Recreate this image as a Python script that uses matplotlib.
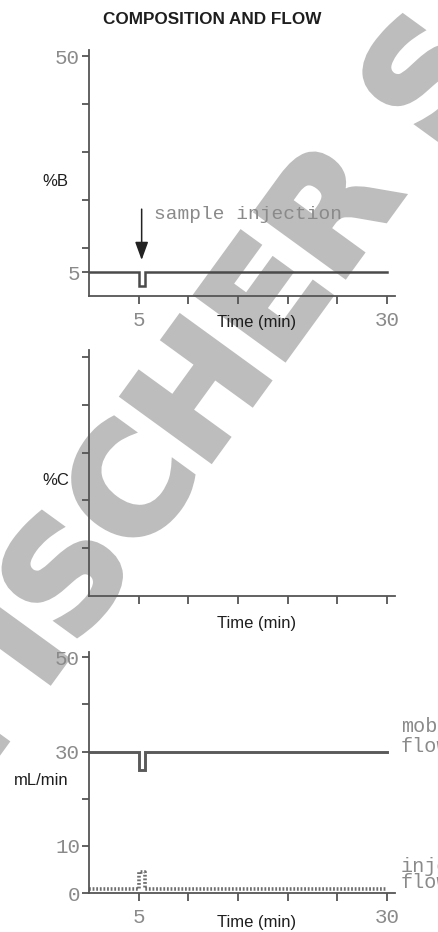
import matplotlib
matplotlib.use("Agg")
import matplotlib.pyplot as plt
from matplotlib import patheffects

# ---- data -------------------------------------------------------------
time_b = [0, 5, 5, 5.65, 5.65, 30]
pct_b = [5, 5, 2, 2, 5, 5]

time_mob = [0, 5, 5, 5.65, 5.65, 30]
mob_flow = [30, 30, 26, 26, 30, 30]

time_inj = [0, 5, 5, 5.65, 5.65, 30]
inj_flow = [0.9, 0.9, 4.5, 4.5, 0.9, 0.9]

x_ticks = [5, 10, 15, 20, 25, 30]
x_ticklabels = ["5", "", "", "", "", "30"]

b_ticks = [5, 10, 20, 30, 40, 50]
b_ticklabels = ["5", "", "", "", "", "50"]

c_ticks = [10, 20, 30, 40, 50]

flow_ticks = [0, 10, 20, 30, 40, 50]
flow_ticklabels = ["0", "10", "", "30", "", "50"]

injection_time = 5.3

# ---- styling ----------------------------------------------------------
SANS = "Liberation Sans"
MONO = "Liberation Mono"
AXIS_C = "#555555"
LINE_C = "#4a4a4a"
TEXT_C = "#1e1e1e"
MONO_C = "#8a8a8a"
STAMP_C = "#bdbdbd"

fig = plt.figure(figsize=(4.38, 9.32), dpi=100)
fig.patch.set_facecolor("white")

# diagonal background stamp
fig.text(0.549, 0.5494, "FISCHER S", rotation=54, rotation_mode="anchor",
         ha="center", va="baseline", fontsize=108, weight="bold",
         family="DejaVu Sans", color=STAMP_C, zorder=-10,
         path_effects=[patheffects.withStroke(linewidth=4, foreground=STAMP_C,
                                              joinstyle="miter")])

fig.text(0.484, 0.9796, "COMPOSITION AND FLOW", ha="center", va="center",
         fontsize=12.3, weight="bold", family=SANS, color=TEXT_C)


def make_axes(rect, ylim, yticks, yticklabels, show_xlabels):
    ax = fig.add_axes(rect)
    ax.patch.set_visible(False)
    for side in ("top", "right"):
        ax.spines[side].set_visible(False)
    for side in ("left", "bottom"):
        ax.spines[side].set_color(AXIS_C)
        ax.spines[side].set_linewidth(1.3)
    ax.set_xlim(0, 30.8)
    ax.set_ylim(*ylim)
    ax.set_xticks(x_ticks)
    ax.set_xticklabels(x_ticklabels if show_xlabels else [""] * len(x_ticks))
    ax.set_yticks(yticks)
    ax.set_yticklabels(yticklabels)
    ax.tick_params(axis="y", direction="out", length=5, width=1.3,
                   color=AXIS_C, pad=1.5, labelsize=15, labelcolor=MONO_C)
    ax.tick_params(axis="x", direction="out", length=6, width=1.3,
                   color=AXIS_C, pad=5, labelsize=15, labelcolor=MONO_C)
    for lab in ax.get_xticklabels() + ax.get_yticklabels():
        lab.set_family(MONO)
    return ax


def time_label(ax, y):
    ax.set_xlabel("Time (min)", fontsize=12, family=SANS, color=TEXT_C)
    ax.xaxis.set_label_coords(0.549, y)
    ax.xaxis.label.set_va("center")


def side_label(ax, text, x, y):
    ax.set_ylabel(text, rotation=0, fontsize=12, family=SANS, color=TEXT_C,
                  ha="center", va="center")
    ax.yaxis.set_label_coords(x, y)


# ---- %B ---------------------------------------------------------------
ax1 = make_axes([0.2032, 0.6824, 0.6986, 0.2639], (0, 51.25),
                b_ticks, b_ticklabels, True)
ax1.plot(time_b, pct_b, color=LINE_C, lw=1.8, solid_joinstyle="miter")
ax1.annotate("", xy=(injection_time, 7.5), xytext=(injection_time, 18.1),
             arrowprops=dict(arrowstyle="-|>,head_length=0.55,head_width=0.2",
                             mutation_scale=20, color="#222222", lw=1.1,
                             shrinkA=0, shrinkB=0))
ax1.text(6.5, 16.9, "sample injection", family=MONO, fontsize=14,
         color=MONO_C, ha="left", va="center")
time_label(ax1, -0.106)
side_label(ax1, "%B", -0.111, 0.467)

# ---- %C ---------------------------------------------------------------
ax2 = make_axes([0.2032, 0.3605, 0.6986, 0.2639], (0, 51.5),
                c_ticks, [""] * len(c_ticks), False)
time_label(ax2, -0.11)
side_label(ax2, "%C", -0.108, 0.4715)

# ---- flow -------------------------------------------------------------
ax3 = make_axes([0.2032, 0.0418, 0.6986, 0.2586], (0, 51.1),
                flow_ticks, flow_ticklabels, True)
ax3.plot(time_mob, mob_flow, color="#5a5a5a", lw=2.1, solid_joinstyle="miter")
ax3.plot(time_inj, inj_flow, color="#6e6e6e", lw=2.6, linestyle=(0, (0.5, 0.5)))
ax3.text(31.4, 33.2, "mobile\nflow", family=MONO, fontsize=14.5, color=MONO_C,
         ha="left", va="center", linespacing=1.1)
ax3.text(31.4, 4.0, "injection\nflow", family=MONO, fontsize=14.5, color=MONO_C,
         ha="left", va="center", linespacing=0.8)
time_label(ax3, -0.124)
side_label(ax3, "mL/min", -0.157, 0.465)

fig.savefig("out.png", dpi=100)
